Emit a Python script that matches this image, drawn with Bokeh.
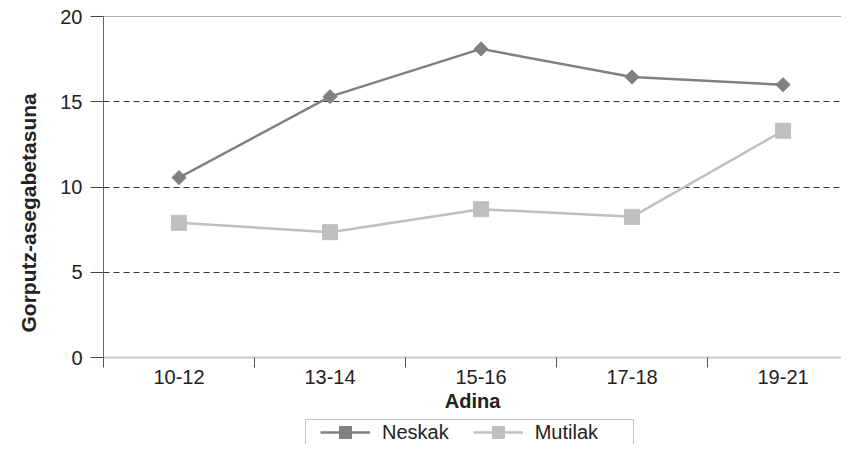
import math
from bokeh.plotting import figure
from bokeh.layouts import column
from bokeh.models import (Range1d, FixedTicker, Span, Legend, LegendItem, ColumnDataSource,
                          Title, BoxAnnotation)
from bokeh.embed import file_html
from bokeh.resources import INLINE

categories = ["10-12", "13-14", "15-16", "17-18", "19-21"]
neskak = [10.55, 15.3, 18.1, 16.45, 16.0]
mutilak = [7.9, 7.35, 8.7, 8.25, 13.3]
y_ticks = [0, 5, 10, 15, 20]

FONT = "Liberation Sans"
TXT = "#222222"
C_N = "#808080"
C_M = "#bfbfbf"
xpos = [i + 0.5 for i in range(len(categories))]

p = figure(width=841, height=414, output_backend="svg", toolbar_location=None,
           x_range=Range1d(0, 4.887), y_range=Range1d(0, 20),
           min_border_left=103, min_border_top=16, min_border_right=0, min_border_bottom=0)
p.outline_line_color = None

# grid
p.xgrid.grid_line_color = None
p.ygrid.ticker = FixedTicker(ticks=[5, 10, 15])
p.ygrid.grid_line_color = "#333333"
p.ygrid.grid_line_dash = "6 4"
p.ygrid.grid_line_width = 1
p.add_layout(Span(location=20, dimension="width", line_color="#666666", line_width=1))

# y axis
yax = p.yaxis[0]
yax.ticker = FixedTicker(ticks=y_ticks)
yax.axis_line_color = "#666666"
yax.major_tick_line_color = "#444444"
yax.major_tick_in = 0
yax.major_tick_out = 13
yax.minor_tick_line_color = None
yax.major_label_standoff = 8
yax.major_label_text_font = FONT
yax.major_label_text_font_size = "20px"
yax.major_label_text_color = TXT

ytitle = Title(text="Gorputz-asegabetasuna", align="left", vertical_align="top",
               offset=25, standoff=32,
               text_font=FONT, text_font_style="bold", text_font_size="21px",
               text_color=TXT)
p.add_layout(ytitle, "left")

# x axis
xax = p.xaxis[0]
xax.ticker = FixedTicker(ticks=xpos, minor_ticks=list(range(len(categories) + 1)))
xax.major_label_overrides = {x: c for x, c in zip(xpos, categories)}
xax.axis_line_color = "#cccccc"
xax.axis_line_width = 2
xax.major_tick_line_color = None
xax.major_tick_in = 0
xax.major_tick_out = 0
xax.minor_tick_line_color = "#555555"
xax.minor_tick_in = 0
xax.minor_tick_out = 10
xax.major_label_standoff = 2
xax.major_label_text_font = FONT
xax.major_label_text_font_size = "20px"
xax.major_label_text_color = TXT
xax.axis_label = "Adina"
xax.axis_label_text_font = FONT
xax.axis_label_text_font_style = "bold"
xax.axis_label_text_font_size = "20px"
xax.axis_label_text_color = TXT
xax.axis_label_standoff = 3

src = ColumnDataSource(dict(x=xpos, n=neskak, m=mutilak))

def draw(fig):
    l1 = fig.line("x", "n", source=src, line_color=C_N, line_width=2.5)
    s1 = fig.scatter("x", "n", source=src, marker="square", angle=math.pi / 4, size=10,
                     fill_color=C_N, line_color=C_N)
    l2 = fig.line("x", "m", source=src, line_color=C_M, line_width=2.5)
    s2 = fig.scatter("x", "m", source=src, marker="square", size=15,
                     fill_color=C_M, line_color=C_M)
    return l1, s1, l2, s2

draw(p)

# legend strip below the chart (same series styles, data kept out of view)
LH = 30
lg = figure(width=841, height=LH, output_backend="svg", toolbar_location=None,
            x_range=Range1d(0, 4.887), y_range=Range1d(100, 101),
            x_axis_location=None, y_axis_location=None,
            min_border_left=0, min_border_right=0, min_border_top=0, min_border_bottom=0)
lg.outline_line_color = None
lg.xgrid.grid_line_color = None
lg.ygrid.grid_line_color = None
g1, g2, g3, g4 = draw(lg)

# the column aligns this strip's frame with the chart frame (starts at x=103)
lg.add_layout(BoxAnnotation(left=202, right=530, top=LH - 5, bottom=-20,
                            left_units="screen", right_units="screen",
                            top_units="screen", bottom_units="screen",
                            fill_color=None, line_color="#444444", line_width=1))

legend = Legend(items=[LegendItem(label="Neskak", renderers=[g1, g2]),
                       LegendItem(label="Mutilak", renderers=[g3, g4])],
                orientation="horizontal", location=(217, -3))
legend.label_text_font = FONT
legend.label_text_font_size = "20px"
legend.label_text_color = TXT
legend.glyph_width = 50
legend.glyph_height = 30
legend.label_standoff = 12
legend.spacing = 24
legend.padding = 0
legend.margin = 0
legend.border_line_color = None
legend.background_fill_color = None
lg.add_layout(legend, "center")

page = column(p, lg, spacing=0)
open("out.html", "w").write(file_html(page, INLINE))
